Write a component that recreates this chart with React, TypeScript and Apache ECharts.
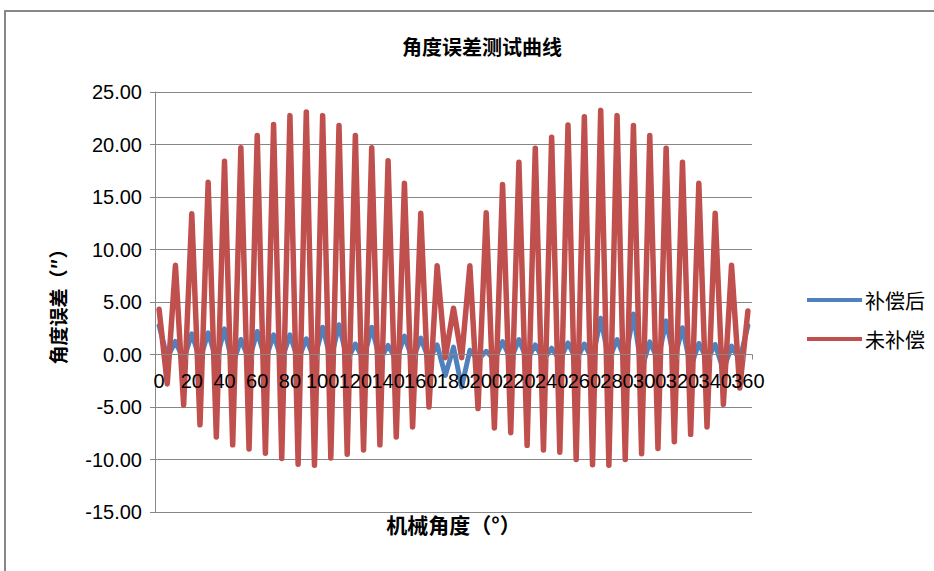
import React, { useEffect, useRef } from "react";
import * as echarts from "echarts";

const angles = [
  "0", "5", "10", "15", "20", "25", "30", "35", "40", "45", "50", "55", "60", "65", "70", "75",
  "80", "85", "90", "95", "100", "105", "110", "115", "120", "125", "130", "135", "140", "145",
  "150", "155", "160", "165", "170", "175", "180", "185", "190", "195", "200", "205", "210", "215",
  "220", "225", "230", "235", "240", "245", "250", "255", "260", "265", "270", "275", "280", "285",
  "290", "295", "300", "305", "310", "315", "320", "325", "330", "335", "340", "345", "350", "355", "360",
];

const compensated = [
  2.75, -0.3, 1.24, -0.5, 1.97, -0.5, 2.06, -0.5, 2.44, -1.0, 1.43, -0.5, 2.19, -0.5, 1.87, -0.5,
  1.87, -0.5, 1.5, -0.5, 2.6, -0.5, 2.83, -0.5, 1.0, -0.5, 2.6, -0.5, 0.86, -0.5,
  1.75, -0.5, 1.56, -0.5, 0.92, -2.0, 0.7, -3.1, 0.4, -0.5, 0.3, -0.5, 1.24, -0.5,
  1.43, -0.5, 0.92, -0.5, 0.6, -0.5, 1.1, -0.5, 1.0, -0.5, 3.46, -0.5, 1.43, -0.5,
  3.85, -1.4, 1.2, -0.5, 3.2, -0.5, 2.55, -1.2, 1.05, -0.5, 0.95, -1.5, 0.8, -0.5, 2.75,
];

const uncompensated = [
  4.3, -2.8, 8.5, -4.8, 13.4, -6.7, 16.4, -7.85, 18.4, -8.6, 19.7, -9.0, 20.85, -9.4, 21.9, -9.9,
  22.75, -10.45, 23.1, -10.55, 22.75, -9.85, 21.8, -9.5, 20.85, -9.1, 19.7, -8.6, 18.45, -7.85,
  16.3, -6.9, 13.45, -5.0, 8.45, -0.3, 4.4, -0.3, 8.45, -5.15, 13.5, -7.0, 16.2, -7.45,
  18.3, -8.65, 19.65, -9.1, 20.7, -9.3, 21.85, -10.0, 22.65, -10.5, 23.25, -10.55, 22.75, -10.0,
  21.8, -9.45, 20.85, -8.95, 19.65, -8.3, 18.3, -7.6, 16.3, -6.9, 13.45, -4.75, 8.5, -3.2, 4.15,
];

const seriesNames = ["补偿后", "未补偿"];
const titleText = "角度误差测试曲线";
const yAxisName = "角度误差（″）";
const xAxisName = "机械角度（°）";

const CJK = '"Noto Sans CJK SC", "Noto Sans", sans-serif';
const NUM = '"Liberation Sans", Arial, sans-serif';
const GRID = "#878787";

export default function App() {
  const ref = useRef<HTMLDivElement>(null);

  useEffect(() => {
    if (!ref.current) return;
    const chart = echarts.init(ref.current, null, { renderer: "svg" });
    chart.setOption({
      animation: false,
      backgroundColor: "#ffffff",
      title: {
        text: titleText,
        left: 477,
        top: 31,
        textAlign: "center",
        textStyle: { fontFamily: CJK, fontSize: 20, fontWeight: "bold", color: "#000" },
      },
      graphic: [
        {
          type: "rect",
          shape: { x: 5, y: 11, width: 1000, height: 1000 },
          style: { fill: "none", stroke: GRID, lineWidth: 2 },
          silent: true,
        },
      ],
      legend: {
        orient: "vertical",
        left: 802,
        top: 285,
        icon: "rect",
        itemWidth: 55,
        itemHeight: 4,
        itemGap: 19,
        textStyle: { fontFamily: CJK, fontSize: 20, color: "#000", padding: [0, 0, 0, -2] },
        data: seriesNames,
      },
      grid: {
        left: 155,
        right: 182,
        top: 92,
        bottom: 59,
        containLabel: false,
        outerBoundsMode: "none",
      },
      xAxis: {
        type: "category",
        data: angles,
        boundaryGap: true,
        position: "bottom",
        offset: -157.5,
        z: 10,
        name: xAxisName,
        nameLocation: "middle",
        nameGap: 159,
        nameTextStyle: { fontFamily: CJK, fontSize: 21, fontWeight: "bold", color: "#000" },
        axisLine: { onZero: false, lineStyle: { color: GRID, width: 1 } },
        axisTick: { show: true, interval: 3, length: 5, lineStyle: { color: GRID } },
        axisLabel: {
          interval: 0,
          fontFamily: NUM,
          fontSize: 20,
          color: "#000",
          margin: 16,
          hideOverlap: false,
          formatter: (v: string, i: number) => (i % 4 === 0 ? v : ""),
        },
        splitLine: { show: false },
      },
      yAxis: {
        type: "value",
        min: -15,
        max: 25,
        interval: 5,
        name: yAxisName,
        nameLocation: "middle",
        nameGap: 88,
        nameTextStyle: { fontFamily: CJK, fontSize: 19, fontWeight: "bold", color: "#000" },
        axisLine: { show: true, lineStyle: { color: GRID, width: 1 } },
        axisTick: { show: true, length: 5, lineStyle: { color: GRID } },
        axisLabel: {
          fontFamily: NUM,
          fontSize: 20,
          color: "#000",
          margin: 13,
          formatter: (v: number) => v.toFixed(2),
        },
        splitLine: { show: true, lineStyle: { color: GRID, width: 1 } },
      },
      series: [
        {
          name: seriesNames[0],
          type: "line",
          data: compensated,
          symbol: "none",
          color: "#4F81BD",
          lineStyle: { width: 5, color: "#4F81BD", join: "round", cap: "round" },
          z: 2,
        },
        {
          name: seriesNames[1],
          type: "line",
          data: uncompensated,
          symbol: "none",
          color: "#C0504D",
          lineStyle: { width: 5.5, color: "#C0504D", join: "round", cap: "round" },
          z: 3,
        },
      ],
    });
    return () => chart.dispose();
  }, []);

  return (
    <div
      ref={ref}
      style={{ position: "fixed", left: 0, top: 0, width: 934, height: 571, background: "#fff" }}
    />
  );
}
